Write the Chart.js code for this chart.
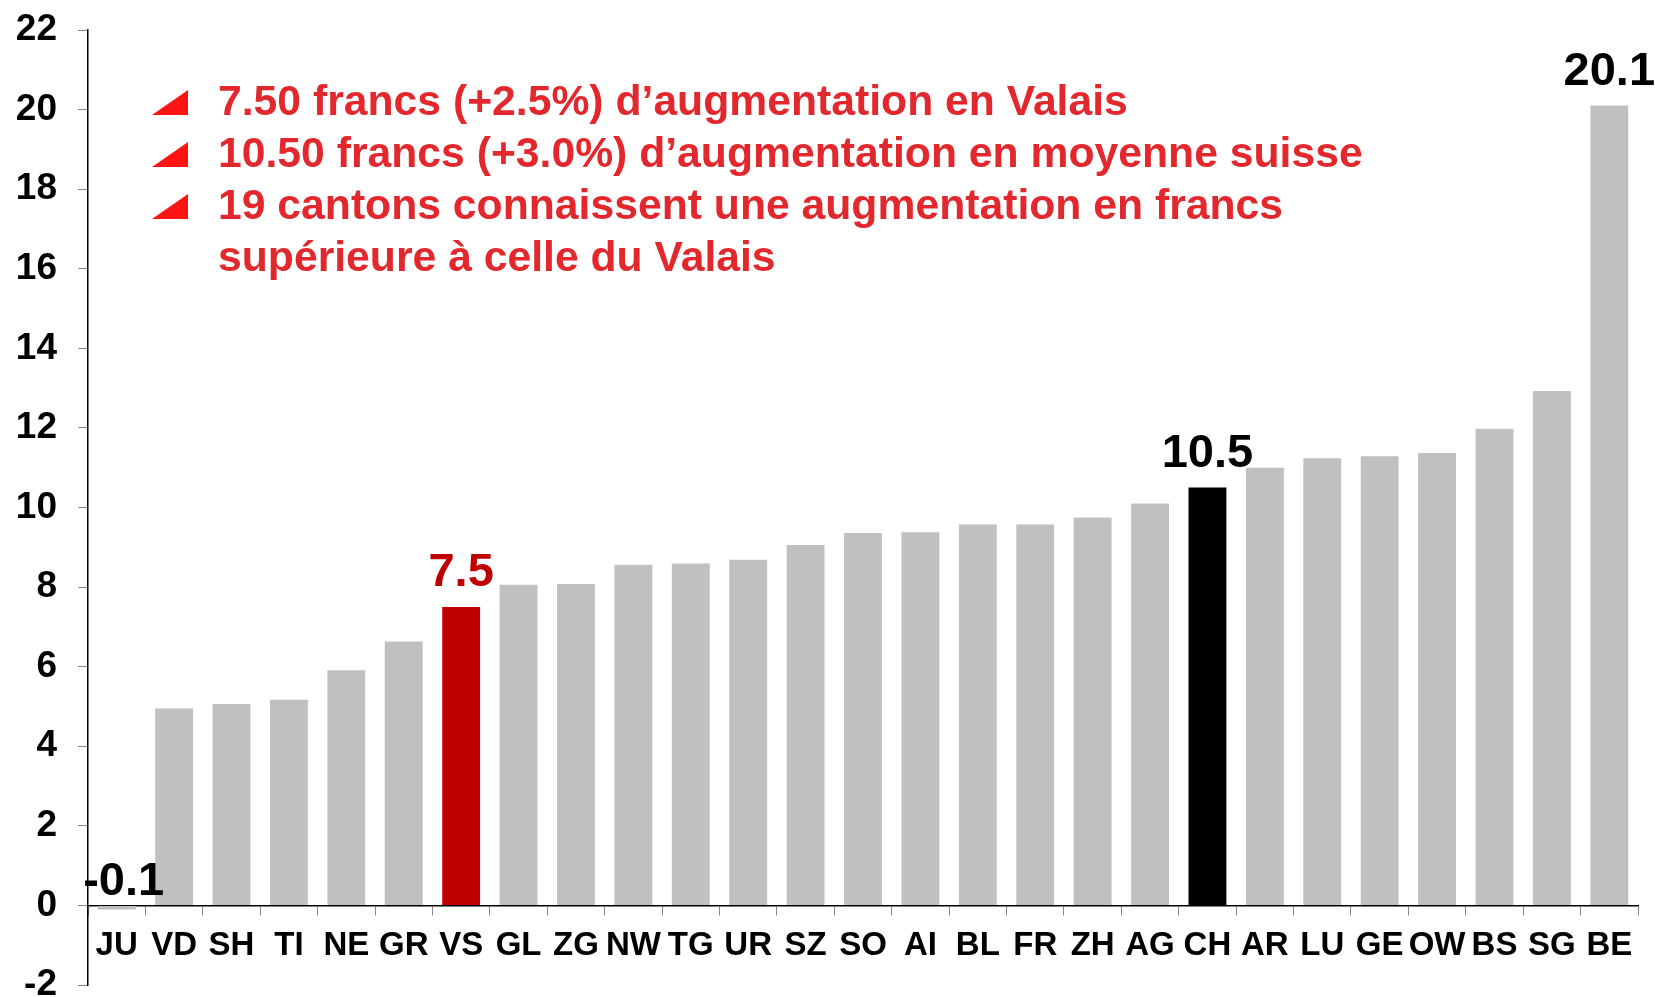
<!DOCTYPE html>
<html>
<head>
<meta charset="utf-8">
<script src="https://cdn.jsdelivr.net/npm/chart.js@4.4.1/dist/chart.umd.min.js"></script>
<style>
  html, body { margin: 0; padding: 0; background: #fff; }
  #wrap { width: 1655px; height: 997px; position: relative; }
</style>
</head>
<body>
<div id="wrap"><canvas id="bar-chart"></canvas></div>
<script>
// Augmentation en francs par canton
const cantons = ["JU", "VD", "SH", "TI", "NE", "GR", "VS", "GL", "ZG", "NW", "TG", "UR", "SZ", "SO",
                 "AI", "BL", "FR", "ZH", "AG", "CH", "AR", "LU", "GE", "OW", "BS", "SG", "BE"];
const increase = [-0.1, 4.95, 5.06, 5.17, 5.91, 6.63, 7.5, 8.06, 8.08, 8.56, 8.59, 8.69, 9.06, 9.36,
                  9.38, 9.57, 9.57, 9.75, 10.1, 10.5, 11.0, 11.24, 11.29, 11.37, 11.98, 12.93, 20.1];
const labelled = ["JU", "VS", "CH", "BE"];
const notes = [
    "7.50 francs (+2.5%) d’augmentation en Valais",
    "10.50 francs (+3.0%) d’augmentation en moyenne suisse",
    "19 cantons connaissent une augmentation en francs",
    "supérieure à celle du Valais"
];
const bulleted = [true, true, true, false];

const font = "'Liberation Sans', Arial, sans-serif";

const barColors = cantons.map(c => c === "VS" ? "#C00000" : c === "CH" ? "#000000" : "#C0C0C0");

// value labels above some bars
const valueLabels = {
    id: "valueLabels",
    afterDatasetsDraw(chart) {
        const ctx = chart.ctx;
        const meta = chart.getDatasetMeta(0);
        ctx.save();
        ctx.font = "bold 47px " + font;
        ctx.textAlign = "center";
        ctx.textBaseline = "alphabetic";
        labelled.forEach(code => {
            const i = cantons.indexOf(code);
            const bar = meta.data[i];
            const v = increase[i];
            const top = Math.min(bar.y, bar.base);
            ctx.fillStyle = code === "VS" ? "#C00000" : "#000000";
            ctx.fillText(v.toFixed(1), bar.x + (v < 0 ? 7 : 0), top - (v < 0 ? 11 : 21));
        });
        ctx.restore();
    }
};

// red bullet notes in the top left
const notesBox = {
    id: "notesBox",
    afterDraw(chart) {
        const ctx = chart.ctx;
        ctx.save();
        ctx.font = "bold 42.7px " + font;
        ctx.textAlign = "left";
        ctx.textBaseline = "alphabetic";
        notes.forEach((line, i) => {
            const base = 115 + i * 52;
            if (bulleted[i]) {
                ctx.fillStyle = "#FF1414";
                ctx.beginPath();
                ctx.moveTo(152, base);
                ctx.lineTo(188, base);
                ctx.lineTo(188, base - 25);
                ctx.closePath();
                ctx.fill();
            }
            ctx.fillStyle = "#E2282D";
            ctx.fillText(line, 218, base);
        });
        ctx.restore();
    }
};

new Chart(document.getElementById("bar-chart"), {
    type: "bar",
    data: {
        labels: cantons,
        datasets: [{
            data: increase,
            backgroundColor: barColors,
            categoryPercentage: 1,
            barPercentage: 0.66
        }]
    },
    options: {
        responsive: true,
        maintainAspectRatio: false,
        animation: false,
        layout: { padding: { top: 30, right: 17, bottom: 12, left: 0 } },
        plugins: {
            legend: { display: false },
            tooltip: { enabled: false }
        },
        scales: {
            x: {
                position: { y: 0 },
                grid: { drawOnChartArea: false, drawTicks: true, tickLength: 9, color: "#888888", offset: true },
                border: { display: true, color: "#000000", width: 1.5 },
                ticks: {
                    autoSkip: false, maxRotation: 0, color: "#000000", padding: 12,
                    font: { family: font, size: 33, weight: "bold" }
                }
            },
            y: {
                min: -2,
                max: 22,
                ticks: {
                    stepSize: 2, color: "#000000", padding: 21,
                    font: { family: font, size: 37, weight: "bold" }
                },
                grid: { drawOnChartArea: false, drawTicks: true, tickLength: 10, color: "#888888" },
                border: { display: true, color: "#000000", width: 1.5 },
                afterFit: (s) => { s.width = 88; s.paddingTop = 0; s.paddingBottom = 0; }
            }
        }
    },
    plugins: [valueLabels, notesBox]
});
</script>
</body>
</html>
